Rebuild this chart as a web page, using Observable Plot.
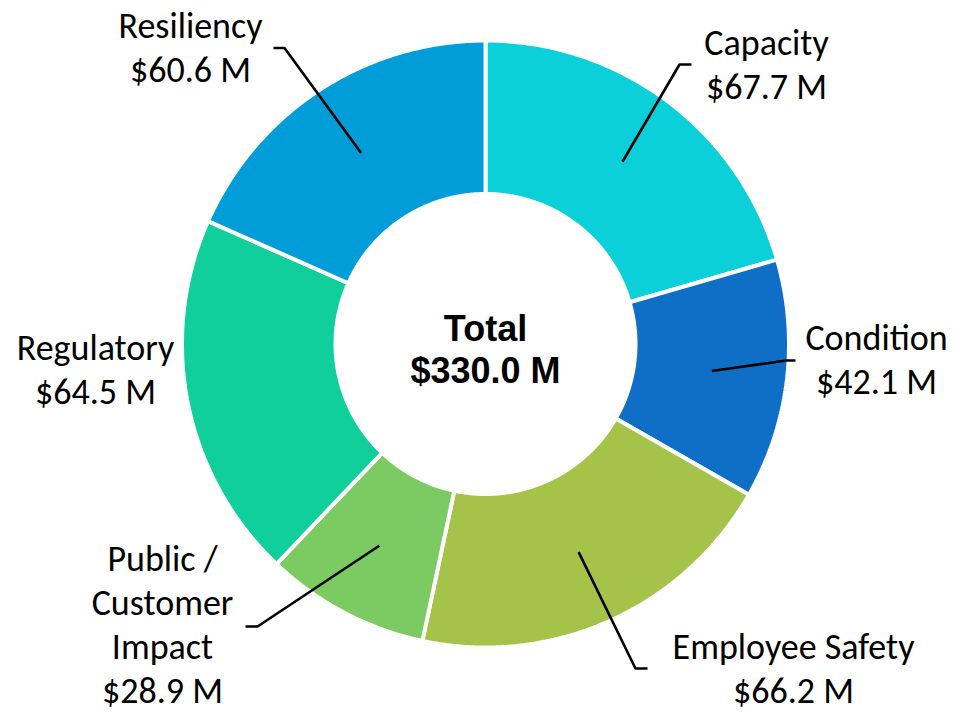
<!DOCTYPE html>
<html>
<head>
<meta charset="utf-8">
<script src="https://cdn.jsdelivr.net/npm/d3@7"></script>
<script src="https://cdn.jsdelivr.net/npm/@observablehq/plot@0.6"></script>
<style>
  html, body { margin: 0; padding: 0; background: #ffffff; }
  #chart svg { display: block; }
</style>
</head>
<body>
<div id="chart"></div>
<script>
// ---- data ----
const categories = ["Capacity", "Condition", "Employee Safety", "Public / Customer Impact", "Regulatory", "Resiliency"];
const labelNames = ["Capacity", "Condition", "Employee Safety", "Public /\nCustomer\nImpact", "Regulatory", "Resiliency"];
const values = [67.7, 42.1, 66.2, 28.9, 64.5, 60.6];
const totalLabel = "Total";
const unit = " M";

// ---- style / layout ----
const colors = ["#0BD0D9", "#0F6FC6", "#A5C249", "#7CCA62", "#10CF9B", "#009DD9"];
const W = 954, H = 712;
const cx = 485, cy = 343.5, R = 303.5, r0 = 150, rLead = 228;
// label anchor (center x, last baseline y) and leader bend/end per slice
const labelLayout = [
  {lx: 766, ly: 98,  bend: [679, 64],   end: [691, 64]},
  {lx: 876, ly: 393, bend: [786, 360],  end: [795, 360]},
  {lx: 793, ly: 702, bend: [635, 668],  end: [647, 668]},
  {lx: 162, ly: 702, bend: [257, 626],  end: [245, 626]},
  {lx: 95,  ly: 403, bend: null,        end: null},
  {lx: 190, ly: 81,  bend: [284, 47.5], end: [273, 47.5]}
];
const labelFont = "Carlito, Calibri, Lato, sans-serif";
const labelSize = 36;
const lineGap = 44;

// ---- geometry derived from values ----
const total = d3.sum(values);
const pt = (a, rad) => ({x: cx + rad * Math.sin(a), y: cy - rad * Math.cos(a)});
const slices = [];
const leaders = [];
const labels = [];
let acc = 0;
categories.forEach((name, i) => {
  const a0 = acc / total * 2 * Math.PI;
  acc += values[i];
  const a1 = acc / total * 2 * Math.PI;
  const n = Math.max(8, Math.ceil((a1 - a0) / (Math.PI / 360)));
  const poly = [];
  for (let k = 0; k <= n; k++) poly.push(pt(a0 + (a1 - a0) * k / n, R));
  for (let k = n; k >= 0; k--) poly.push(pt(a0 + (a1 - a0) * k / n, r0));
  poly.push(poly[0]);
  poly.forEach(p => slices.push({name, x: p.x, y: p.y}));

  const L = labelLayout[i];
  if (L.bend) {
    const s = pt((a0 + a1) / 2, rLead);
    leaders.push({name, x: s.x, y: s.y});
    leaders.push({name, x: L.bend[0], y: L.bend[1]});
    leaders.push({name, x: L.end[0], y: L.end[1]});
  }
  labels.push({name, x: L.lx, y: L.ly, text: `${labelNames[i]}\n$${values[i].toFixed(1)}${unit}`});
});

const chart = Plot.plot({
  width: W,
  height: H,
  margin: 0,
  style: {background: "#ffffff"},
  x: {domain: [0, W], range: [0, W], axis: null},
  y: {domain: [0, H], range: [0, H], axis: null},
  color: {domain: categories, range: colors},
  marks: [
    Plot.line(slices, {x: "x", y: "y", z: "name", fill: "name", stroke: "#ffffff", strokeWidth: 4, strokeLinejoin: "miter", curve: "linear"}),
    Plot.line(leaders, {x: "x", y: "y", z: "name", stroke: "#000000", strokeWidth: 2.6, strokeLinejoin: "miter", strokeLinecap: "butt"}),
    Plot.text(labels, {x: "x", y: "y", text: "text", textAnchor: "middle", lineAnchor: "bottom", lineHeight: lineGap / labelSize, fontSize: labelSize, fontFamily: labelFont, fill: "#000000"}),
    Plot.text([{x: cx, y: 382, text: `${totalLabel}\n$${total.toFixed(1)}${unit}`}], {x: "x", y: "y", text: "text", textAnchor: "middle", lineAnchor: "bottom", lineHeight: 42 / 36, fontSize: 36, fontWeight: "bold", fontFamily: "Liberation Sans, Arial, sans-serif", fill: "#000000"})
  ]
});
document.getElementById("chart").appendChild(chart);
</script>
</body>
</html>
